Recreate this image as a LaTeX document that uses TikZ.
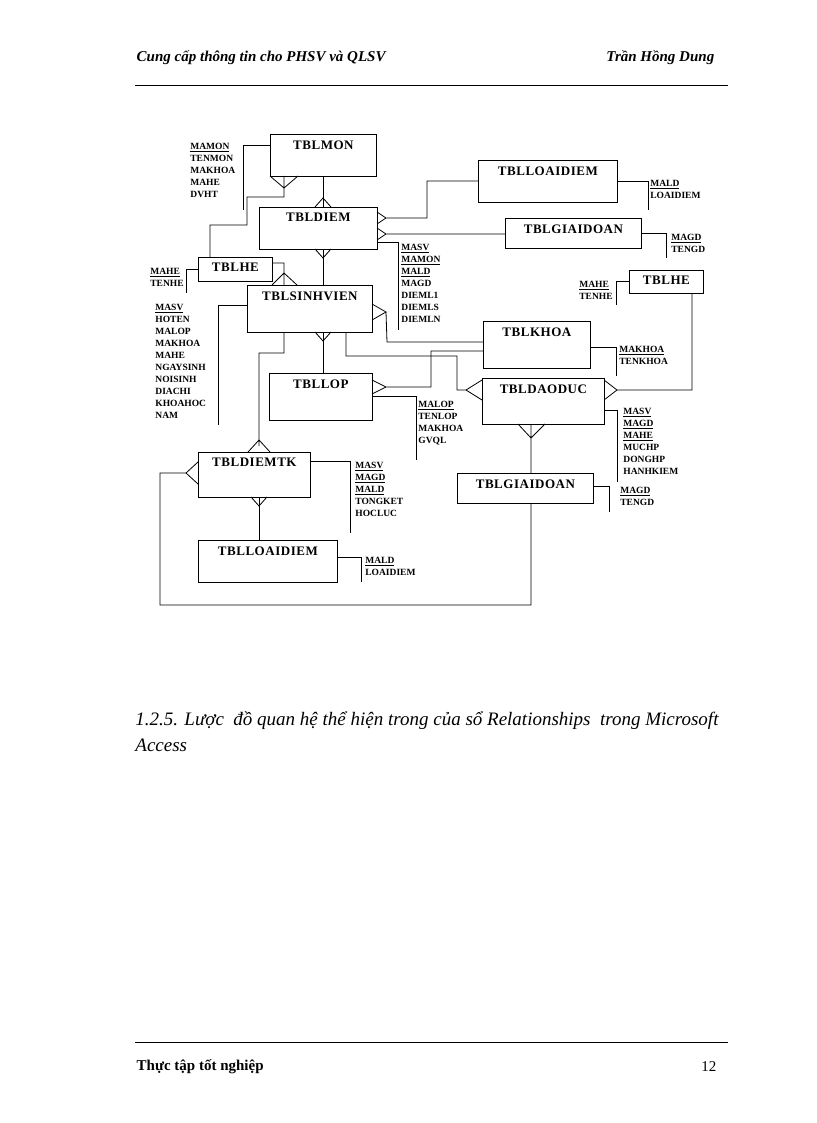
\documentclass[tikz,border=0pt]{standalone}
\usepackage{fontspec}
\setmainfont{Liberation Serif}
\usetikzlibrary{calc}
\begin{document}
\begin{tikzpicture}[x=1pt,y=-1pt,line width=0.8pt,
  box/.style={draw,inner sep=0pt},
  ttl/.style={font=\bfseries\fontsize{13}{13}\selectfont,anchor=north,inner sep=0pt},
  att/.style={font=\bfseries\fontsize{9.5}{12}\selectfont,anchor=north west,inner sep=0pt,align=left},
  ln/.style={line width=0.8pt}]
\useasboundingbox (0,0) rectangle (816,1123);
\newcommand\tbl[6]{\node[box,minimum width={#4-#2},minimum height={#5-#3},anchor=north west] (#1) at (#2,#3) {};
  \node[ttl] (#1t) at ($(#1.north)+(0,6)$) {\addfontfeatures{LetterSpace=4}#6};}
\newcommand\upv[2]{\draw (#1-8,#2) -- (#1,#2-9) -- (#1+8,#2);}
\newcommand\dnv[2]{\draw (#1-8,#2) -- (#1,#2+9) -- (#1+8,#2);}
% header / footer
\node[font=\itshape\bfseries\fontsize{15}{15}\selectfont,anchor=west] (h1) at (133,58) {Cung cấp thông tin cho PHSV và QLSV};
\node[font=\itshape\bfseries\fontsize{15}{15}\selectfont,anchor=east] (h2) at (718,58) {Trần Hồng Dung};
\draw[line width=0.6pt] (135,85) -- (728,85);
\draw[line width=0.6pt] (135,1042) -- (728,1042);
\node[font=\bfseries\fontsize{15}{15}\selectfont,anchor=west] (f1) at (133,1067) {Thực tập tốt nghiệp};
\node[font=\fontsize{15}{15}\selectfont,anchor=east] (f2) at (720,1067) {12};
\node[font=\itshape\fontsize{19}{26}\selectfont,anchor=north west,align=left,inner sep=0pt] (cap) at (135,711) {1.2.5. Lược\ \ đồ quan hệ thể hiện trong của sổ Relationships\ \ trong Microsoft\\Access};
% tables
\tbl{mon}{270}{134}{376}{176}{TBLMON}
\tbl{diem}{259}{207}{377}{249}{TBLDIEM}
\tbl{he}{198}{257}{272}{281}{TBLHE}
\tbl{sv}{247}{285}{372}{332}{TBLSINHVIEN}
\tbl{lop}{269}{373}{372}{420}{TBLLOP}
\tbl{ld}{478}{160}{617}{202}{TBLLOAIDIEM}
\tbl{gd}{505}{218}{641}{248}{TBLGIAIDOAN}
\tbl{he2}{629}{270}{703}{293}{TBLHE}
\tbl{kh}{483}{321}{590}{368}{TBLKHOA}
\tbl{dd}{482}{378}{604}{424}{TBLDAODUC}
\tbl{gd2}{457}{473}{593}{503}{TBLGIAIDOAN}
\tbl{tk}{198}{452}{310}{497}{TBLDIEMTK}
\tbl{ld2}{198}{540}{337}{582}{TBLLOAIDIEM}
% attributes
\node[att] (amon) at (190,143) {\underline{MAMON}\\TENMON\\MAKHOA\\MAHE\\DVHT};
\draw (mon.west|-0,145) -- (243,145) -- (243,210);
\node[att] (adiem) at (401,244) {\underline{MASV}\\\underline{MAMON}\\\underline{MALD}\\MAGD\\DIEML1\\DIEMLS\\DIEMLN};
\draw (diem.east|-0,242) -- (398,242) -- (398,330);
\node[att] (ahe) at (150,268) {\underline{MAHE}\\TENHE};
\draw (he.west|-0,269) -- (186,269) -- (186,293);
\node[att] (asv) at (155,304) {\underline{MASV}\\HOTEN\\MALOP\\MAKHOA\\MAHE\\NGAYSINH\\NOISINH\\DIACHI\\KHOAHOC\\NAM};
\draw (sv.west|-0,305) -- (218,305) -- (218,425);
\node[att] (alop) at (418,401) {\underline{MALOP}\\TENLOP\\MAKHOA\\GVQL};
\draw (lop.east|-0,396) -- (416,396) -- (416,460);
\node[att] (ald) at (650,180) {\underline{MALD}\\LOAIDIEM};
\draw (ld.east|-0,181) -- (648,181) -- (648,210);
\node[att] (agd) at (671,234) {\underline{MAGD}\\TENGD};
\draw (gd.east|-0,233) -- (666,233) -- (666,258);
\node[att] (ahe2) at (579,281) {\underline{MAHE}\\TENHE};
\draw (he2.west|-0,281) -- (616,281) -- (616,305);
\node[att] (akh) at (619,346) {\underline{MAKHOA}\\TENKHOA};
\draw (kh.east|-0,347) -- (616,347) -- (616,376);
\node[att] (add) at (623,408) {\underline{MASV}\\\underline{MAGD}\\\underline{MAHE}\\MUCHP\\DONGHP\\HANHKIEM};
\draw (dd.east|-0,410) -- (617,410) -- (617,482);
\node[att] (agd2) at (620,487) {\underline{MAGD}\\TENGD};
\draw (gd2.east|-0,486) -- (609,486) -- (609,512);
\node[att] (atk) at (355,462) {\underline{MASV}\\\underline{MAGD}\\\underline{MALD}\\TONGKET\\HOCLUC};
\draw (tk.east|-0,461) -- (350,461) -- (350,533);
\node[att] (ald2) at (365,557) {\underline{MALD}\\LOAIDIEM};
\draw (ld2.east|-0,557) -- (361,557) -- (361,582);
% relationships
\draw (mon.south) -- (diem.north-|mon.south); \upv{323}{207}
\draw (diem.south-|mon.south) -- (sv.north-|mon.south); \dnv{323}{249}
\draw (sv.south-|mon.south) -- (lop.north-|mon.south); \dnv{323}{332}
\draw (tk.south-|259,0) -- (ld2.north-|259,0); \dnv{259}{497}
% MON crow foot to HE
\draw (270,176) -- (284,188) -- (298,176) (284,176) -- (284,197) -- (247,197) -- (247,225) -- (210,225) -- (he.north-|210,0);
% HE -> SV
\draw (he.east|-0,263) -- (284,263) -- (284,285) (272,285) -- (284,273) -- (297,285);
% DIEM -> LOAIDIEM
\draw (377,212) -- (386,218) -- (377,224) (386,218) -- (427,218) -- (427,181) -- (ld.west|-0,181);
% DIEM -> GIAIDOAN
\draw (377,228) -- (386,234) -- (377,240) (386,234) -- (gd.west|-0,234);
% SV -> KHOA
\draw (372,304) -- (386,312) -- (372,320) (386,312) -- (387,342) -- (kh.west|-0,342);
% SV -> DAODUC
\draw (346,332) -- (346,356) -- (457,356) -- (457,390) -- (466,390) (482,380) -- (466,390) -- (482,400);
% SV -> DIEMTK
\draw (284,332) -- (284,353) -- (259,353) -- (259,446) (248,452) -- (259,440) -- (270,452);
% LOP -> KHOA
\draw (372,380) -- (386,387) -- (372,394) (386,387) -- (431,387) -- (431,351) -- (kh.west|-0,351);
% HE2 -> DAODUC
\draw (692,293) -- (692,390) -- (617,390) (604,380) -- (617,390) -- (604,400);
% DAODUC -> GIAIDOAN2
\draw (518,424) -- (531,438) -- (545,424) (531,424) -- (gd2.north-|531,0);
% GIAIDOAN2 -> DIEMTK
\draw (531,503) -- (531,605) -- (160,605) -- (160,473) -- (186,473) (198,462) -- (186,473) -- (198,484);
\end{tikzpicture}
\end{document}
